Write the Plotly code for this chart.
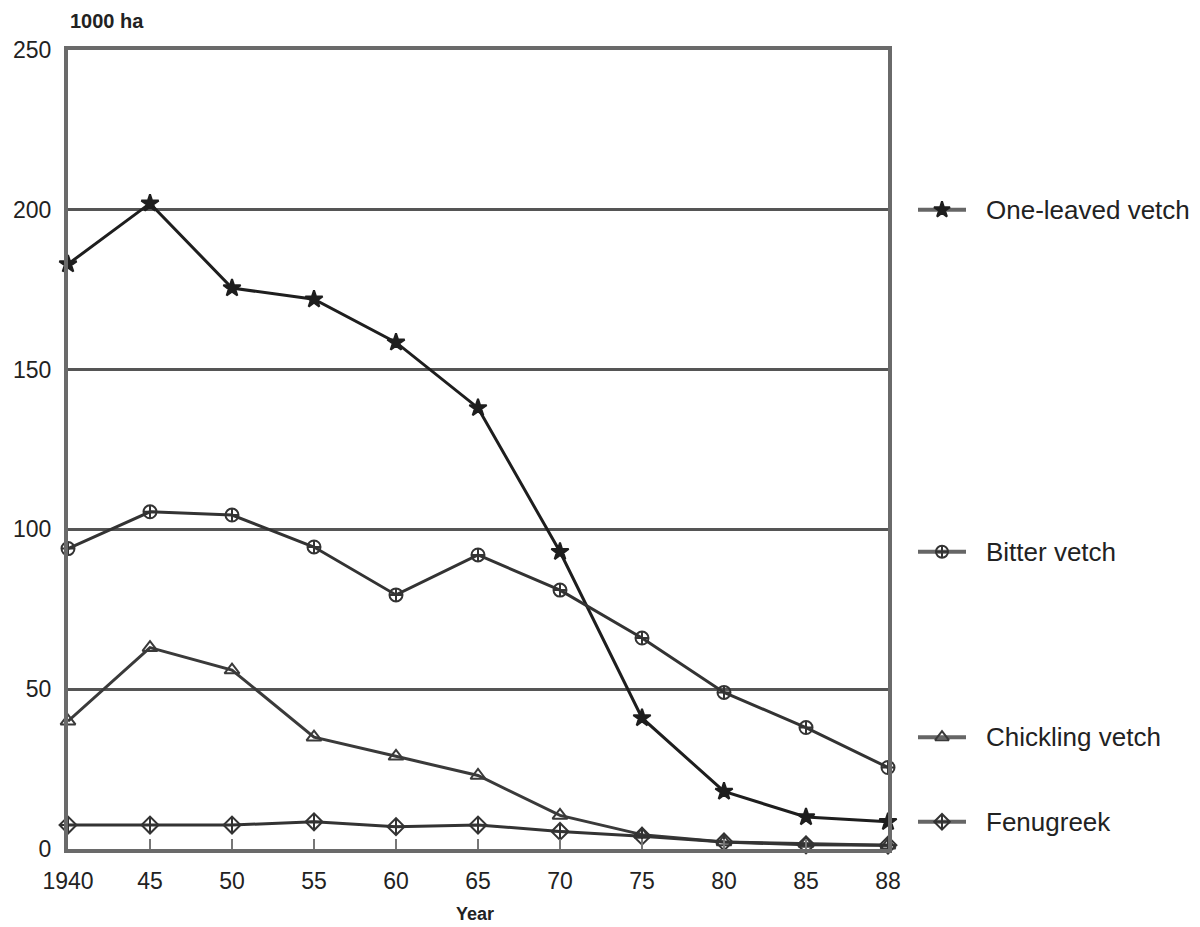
import plotly.graph_objects as go

years = ["1940", "45", "50", "55", "60", "65", "70", "75", "80", "85", "88"]
one_leaved = [183, 202, 175.5, 172, 158.5, 138, 93, 41, 18, 10, 8.5]
bitter = [94, 105.5, 104.5, 94.5, 79.5, 92, 81, 66, 49, 38, 25.5]
chickling = [40, 63, 56, 35, 29, 23, 10.5, 4.5, 2.2, 1.7, 1.2]
fenugreek = [7.5, 7.5, 7.5, 8.5, 7, 7.5, 5.5, 4, 2.2, 1.3, 1.2]

series_names = ["One-leaved vetch", "Bitter vetch", "Chickling vetch", "Fenugreek"]
series_values = [one_leaved, bitter, chickling, fenugreek]
symbols = ["star", "circle-cross-open", "triangle-up-open", "diamond-cross-open"]
line_colors = ["#1e1e1e", "#333333", "#3a3a3a", "#333333"]
legend_y = [200, 93, 35, 8.5]

FONT = "Liberation Sans, Arial, sans-serif"

fig = go.Figure()

for name, vals, sym, col in zip(series_names, series_values, symbols, line_colors):
    fig.add_trace(go.Scatter(
        x=years, y=vals, mode="lines+markers", name=name,
        line=dict(color=col, width=3),
        marker=dict(symbol=sym, size=13, color=col, line=dict(color=col, width=2)),
        cliponaxis=False, showlegend=False,
    ))

W, H = 1200, 927
left, right_margin, top, bottom = 68, 4, 50, 78
plot_w = W - left - right_margin
main_right = (888 - left) / plot_w
leg_left = (918 - left) / plot_w
leg_span = W - right_margin - 918  # pixel units on legend axis

# Legend samples drawn on an auxiliary axis pair (pixel-like x units, same y scale)
for name, sym, col, ly in zip(series_names, symbols, line_colors, legend_y):
    fig.add_trace(go.Scatter(
        x=[0, 48], y=[ly, ly], xaxis="x2", yaxis="y2", mode="lines",
        line=dict(color="#666666", width=4), showlegend=False, hoverinfo="skip",
        cliponaxis=False,
    ))
    fig.add_trace(go.Scatter(
        x=[24], y=[ly], xaxis="x2", yaxis="y2", mode="markers",
        marker=dict(symbol=sym, size=12, color=col, line=dict(color=col, width=2)),
        showlegend=False, hoverinfo="skip", cliponaxis=False,
    ))
    fig.add_annotation(x=66, y=ly, xref="x2", yref="y2", text=name,
                       showarrow=False, xanchor="left", yanchor="middle",
                       font=dict(family=FONT, size=26, color="#222222"))

fig.update_layout(
    width=W, height=H,
    margin=dict(l=left, r=right_margin, t=top, b=bottom, autoexpand=False),
    paper_bgcolor="white", plot_bgcolor="white",
    font=dict(family=FONT, size=23, color="#222222"),
    xaxis=dict(
        domain=[0, main_right], type="category", range=[0, 10],
        showline=True, mirror=True, linecolor="#6a6a6a", linewidth=4,
        showgrid=False, zeroline=False,
        ticks="inside", ticklen=10, tickwidth=2, tickcolor="#777777",
        ticklabelstandoff=8,
        tickfont=dict(family=FONT, size=23, color="#222222"),
    ),
    yaxis=dict(
        range=[0, 250], tickvals=[0, 50, 100, 150, 200, 250],
        showline=True, mirror=True, linecolor="#6a6a6a", linewidth=4,
        showgrid=True, gridcolor="#555555", gridwidth=3, zeroline=False,
        ticks="", ticklabelstandoff=8,
        tickfont=dict(family=FONT, size=23, color="#222222"),
    ),
    xaxis2=dict(
        domain=[leg_left, 1], anchor="y2", range=[0, leg_span],
        visible=False, showgrid=False, zeroline=False,
    ),
    yaxis2=dict(
        domain=[0, 1], anchor="x2", range=[0, 250],
        visible=False, showgrid=False, zeroline=False,
    ),
    showlegend=False,
)

fig.add_annotation(x=0, y=1, xref="paper", yref="paper", text="<b>1000 ha</b>",
                   showarrow=False, xanchor="left", yanchor="bottom", yshift=16,
                   font=dict(family=FONT, size=20, color="#222222"))
fig.add_annotation(x=(475 - left) / plot_w, y=0, xref="paper", yref="paper", text="<b>Year</b>",
                   showarrow=False, xanchor="center", yanchor="top", yshift=-53,
                   font=dict(family=FONT, size=18, color="#222222"))

fig.write_html("out.html", config={"displayModeBar": False})

# remove the default page margin so the figure sits at the window's top-left corner
with open("out.html", "r", encoding="utf-8") as f:
    html = f.read()
html = html.replace("<body>", '<body style="margin:0;padding:0;overflow:hidden">', 1)
with open("out.html", "w", encoding="utf-8") as f:
    f.write(html)
